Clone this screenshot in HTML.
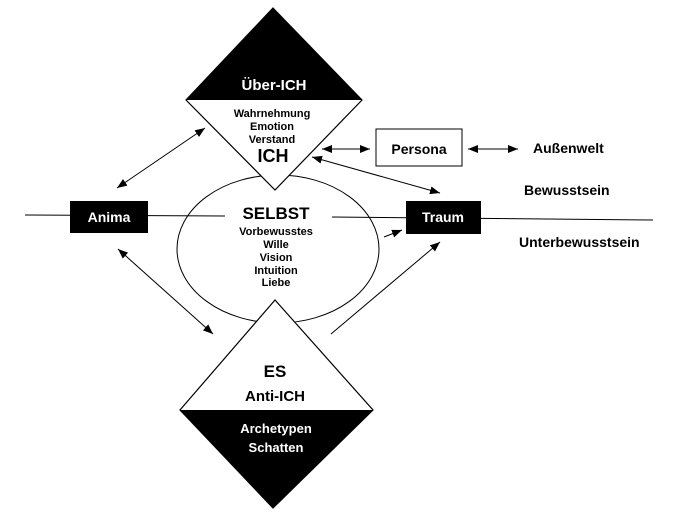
<!DOCTYPE html>
<html><head><meta charset="utf-8"><style>
html,body{margin:0;padding:0;background:#fff;}
svg{display:block;}
text{font-family:"Liberation Sans",sans-serif;font-weight:bold;}
</style></head><body>
<svg width="678" height="517" viewBox="0 0 678 517" xmlns="http://www.w3.org/2000/svg">
<defs>
<marker id="a" viewBox="0 0 10 10" refX="10" refY="5" markerWidth="10" markerHeight="10" markerUnits="userSpaceOnUse" orient="auto-start-reverse"><path d="M0,1 L10,5 L0,9 z" fill="#000"/></marker>
</defs>
<line x1="25" y1="215" x2="225" y2="216" stroke="#000" stroke-width="1"/>
<line x1="332" y1="217" x2="653" y2="220" stroke="#000" stroke-width="1"/>
<ellipse cx="278" cy="249" rx="101" ry="74" fill="none" stroke="#000" stroke-width="1"/>
<polygon points="273,8 362,100 275,190 186,100" fill="#fff" stroke="#000" stroke-width="1.2"/>
<polygon points="273,8 362,100 186,100" fill="#000"/>
<polygon points="275,300 373,410 273,508 180,410" fill="#fff" stroke="#000" stroke-width="1.2"/>
<polygon points="180,410 373,410 273,508" fill="#000"/>
<rect x="70" y="201" width="78" height="32" fill="#000"/>
<rect x="406" y="201" width="75" height="33" fill="#000"/>
<rect x="376" y="129" width="86" height="37" fill="#fff" stroke="#000" stroke-width="1"/>
<line x1="117" y1="188" x2="205" y2="128" stroke="#000" marker-start="url(#a)" marker-end="url(#a)"/>
<line x1="312" y1="157" x2="440" y2="193" stroke="#000" marker-start="url(#a)" marker-end="url(#a)"/>
<line x1="322" y1="149" x2="370" y2="149" stroke="#000" marker-start="url(#a)" marker-end="url(#a)"/>
<line x1="468" y1="149" x2="518" y2="149" stroke="#000" marker-start="url(#a)" marker-end="url(#a)"/>
<line x1="384" y1="237" x2="402" y2="230" stroke="#000" marker-end="url(#a)"/>
<line x1="118" y1="249" x2="213" y2="334" stroke="#000" marker-start="url(#a)" marker-end="url(#a)"/>
<line x1="331" y1="334" x2="440" y2="242" stroke="#000" marker-end="url(#a)"/>
<text x="274" y="90" fill="#fff" font-size="15" text-anchor="middle">Über-ICH</text>
<text x="272" y="117" font-size="11" text-anchor="middle">Wahrnehmung</text>
<text x="272" y="130" font-size="11" text-anchor="middle">Emotion</text>
<text x="272" y="143" font-size="11" text-anchor="middle">Verstand</text>
<text x="273" y="162" font-size="18" text-anchor="middle">ICH</text>
<text x="109" y="222" fill="#fff" font-size="14" text-anchor="middle">Anima</text>
<text x="443" y="222" fill="#fff" font-size="14" text-anchor="middle">Traum</text>
<text x="419" y="154" font-size="14" text-anchor="middle">Persona</text>
<text x="533" y="153" font-size="14">Außenwelt</text>
<text x="524" y="195" font-size="14">Bewusstsein</text>
<text x="519" y="247" font-size="14">Unterbewusstsein</text>
<text x="276" y="219" font-size="17" text-anchor="middle">SELBST</text>
<text x="276" y="235" font-size="11" text-anchor="middle">Vorbewusstes</text>
<text x="276" y="248" font-size="11" text-anchor="middle">Wille</text>
<text x="276" y="261" font-size="11" text-anchor="middle">Vision</text>
<text x="276" y="274" font-size="11" text-anchor="middle">Intuition</text>
<text x="276" y="286" font-size="11" text-anchor="middle">Liebe</text>
<text x="275" y="377" font-size="17" text-anchor="middle">ES</text>
<text x="275" y="401" font-size="15" text-anchor="middle">Anti-ICH</text>
<text x="276" y="433" fill="#fff" font-size="13" text-anchor="middle">Archetypen</text>
<text x="276" y="452" fill="#fff" font-size="13" text-anchor="middle">Schatten</text>
</svg>
</body></html>
